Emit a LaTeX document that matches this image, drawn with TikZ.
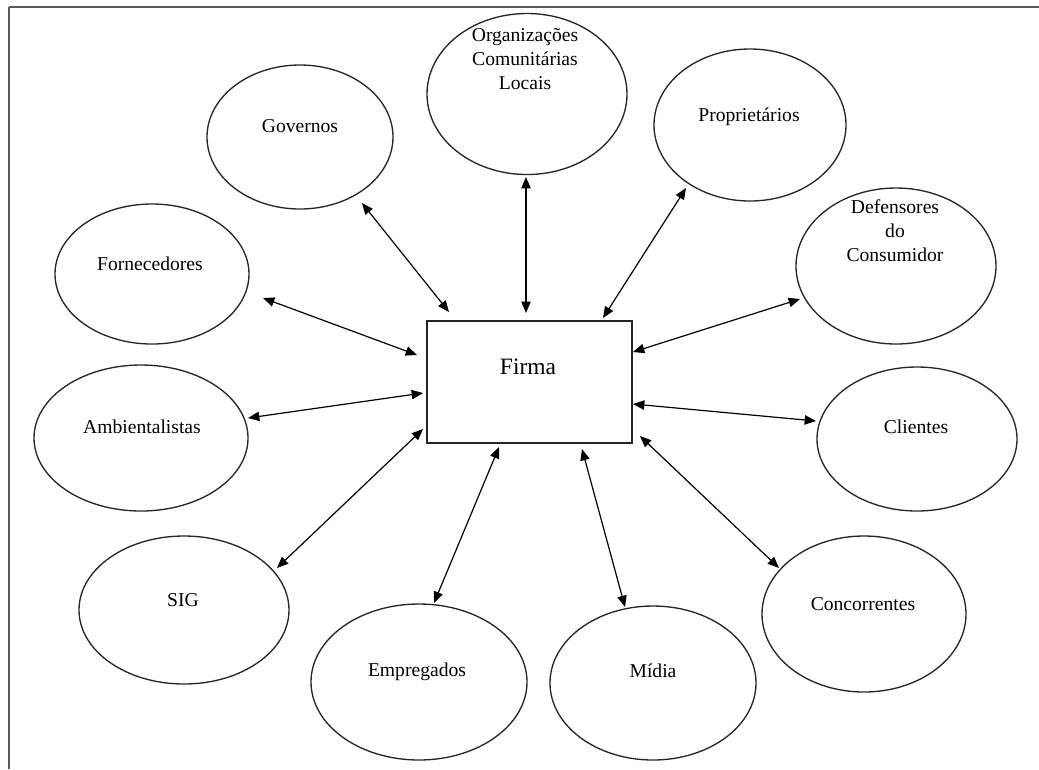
\documentclass[tikz,border=0pt]{standalone}
\usepackage{fontspec}
\setmainfont{Liberation Serif}
\usetikzlibrary{arrows.meta,shapes.geometric}
\tikzset{
  ell/.style={ellipse, draw=black!85, line width=1pt, inner sep=0pt},
  firmabox/.style={rectangle, draw=black!85, line width=1.3pt, inner sep=0pt},
  lbl/.style={font=\fontsize{14.7pt}{18pt}\selectfont, align=center, inner sep=0pt, text height=0.7em, text depth=0.2em},
  conn/.style={line width=0.9pt, {Triangle[length=8.5pt,width=7pt]}-{Triangle[length=8.5pt,width=7pt]}},
  topline/.style={draw=black!65, line width=1.6pt},
  leftline/.style={draw=black!65, line width=1.1pt}
}
\begin{document}
\begin{tikzpicture}[x=0.75pt, y=-0.75pt]
\useasboundingbox (0,0) rectangle (1039,769);
% frame
\coordinate (fTL) at (9,7);
\coordinate (fTR) at (1039,7);
\coordinate (fBL) at (9,769);
\draw[topline] (fTR) -- (fTL);
\draw[leftline] (fTL) -- (fBL);

% center box
\node[firmabox, minimum width=205*0.75pt, minimum height=122*0.75pt] (firma) at (529.5,382) {};
\node[font=\fontsize{17.6pt}{21pt}\selectfont, inner sep=0pt, text height=0.7em, text depth=0.2em] (firmaT) at (528,371) {Firma};

% ellipses
\node[ell, minimum width=186*0.75pt, minimum height=144*0.75pt] (gov) at (300,137) {};
\node[lbl] (govT) at (300,129) {Governos};
\node[ell, minimum width=200*0.75pt, minimum height=161*0.75pt] (org) at (527,94) {};
\node[lbl] (orgT) at (525,86) {Organizações\\Comunitárias\\Locais};
\node[ell, minimum width=192*0.75pt, minimum height=152*0.75pt] (prop) at (750,125) {};
\node[lbl] (propT) at (749,118) {Proprietários};
\node[ell, minimum width=200*0.75pt, minimum height=156*0.75pt] (def) at (896,266) {};
\node[lbl] (defT) at (895,258) {Defensores\\do\\Consumidor};
\node[ell, minimum width=200*0.75pt, minimum height=144*0.75pt] (cli) at (917,439) {};
\node[lbl] (cliT) at (916,430) {Clientes};
\node[ell, minimum width=204*0.75pt, minimum height=156*0.75pt] (conc) at (864,614) {};
\node[lbl] (concT) at (863,607) {Concorrentes};
\node[ell, minimum width=206*0.75pt, minimum height=154*0.75pt] (midia) at (653,683) {};
\node[lbl] (midiaT) at (653,674) {Mídia};
\node[ell, minimum width=216*0.75pt, minimum height=156*0.75pt] (emp) at (419,682) {};
\node[lbl] (empT) at (417,673) {Empregados};
\node[ell, minimum width=210*0.75pt, minimum height=148*0.75pt] (sig) at (184,610) {};
\node[lbl] (sigT) at (183,603) {SIG};
\node[ell, minimum width=214*0.75pt, minimum height=146*0.75pt] (amb) at (141,438) {};
\node[lbl] (ambT) at (142,430) {Ambientalistas};
\node[ell, minimum width=194*0.75pt, minimum height=140*0.75pt] (forn) at (152,274) {};
\node[lbl] (fornT) at (150,267) {Fornecedores};

% connector ends
\coordinate (govA) at (362,203);  \coordinate (govB) at (449,312);
\coordinate (orgA) at (526,177);  \coordinate (orgB) at (526,313);
\coordinate (propA) at (686,188); \coordinate (propB) at (603,318);
\coordinate (defA) at (800,299);  \coordinate (defB) at (633,352);
\coordinate (cliA) at (816,421);  \coordinate (cliB) at (633,404);
\coordinate (concA) at (779,568); \coordinate (concB) at (640,436);
\coordinate (midA) at (625,607);  \coordinate (midB) at (582,449);
\coordinate (empA) at (434,603);  \coordinate (empB) at (499,447);
\coordinate (sigA) at (277,568);  \coordinate (sigB) at (423,429);
\coordinate (ambA) at (248,418);  \coordinate (ambB) at (423,393);
\coordinate (fornA) at (263,298); \coordinate (fornB) at (417,355);

\draw[conn] (govA) -- (govB);
\draw[conn] (orgA) -- (orgB);
\draw[conn] (propA) -- (propB);
\draw[conn] (defA) -- (defB);
\draw[conn] (cliA) -- (cliB);
\draw[conn] (concA) -- (concB);
\draw[conn] (midA) -- (midB);
\draw[conn] (empA) -- (empB);
\draw[conn] (sigA) -- (sigB);
\draw[conn] (ambA) -- (ambB);
\draw[conn] (fornA) -- (fornB);
\end{tikzpicture}
\end{document}
